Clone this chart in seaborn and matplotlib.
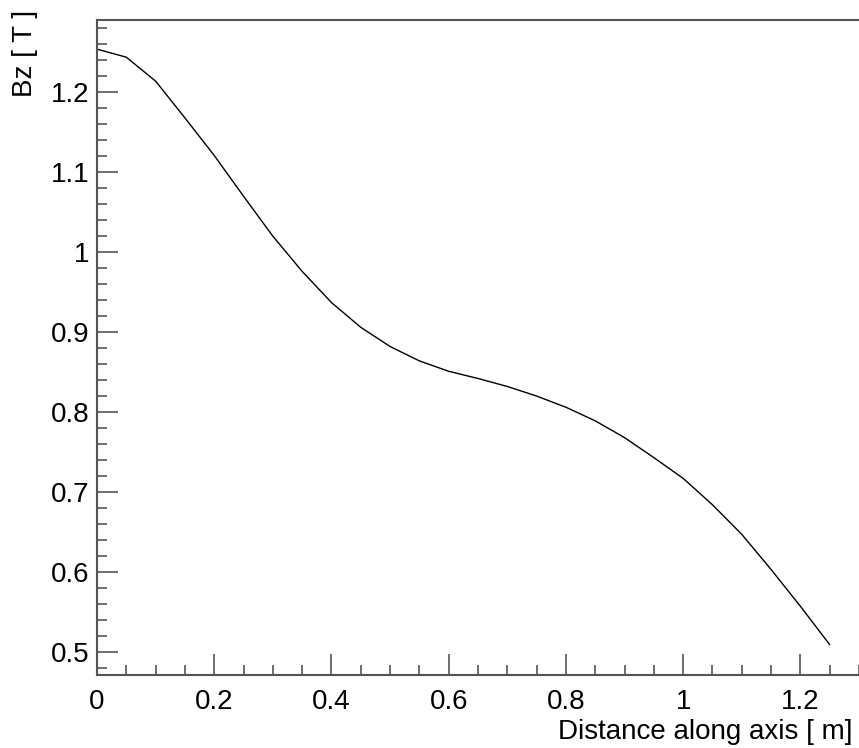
import numpy as np
import matplotlib
matplotlib.use("Agg")
import matplotlib.pyplot as plt
from matplotlib.ticker import MultipleLocator
import seaborn as sns
import pandas as pd

# field along the axis, sampled every 5 cm
distance = [0.0, 0.05, 0.1, 0.15, 0.2, 0.25, 0.3, 0.35, 0.4, 0.45, 0.5, 0.55, 0.6,
            0.65, 0.7, 0.75, 0.8, 0.85, 0.9, 0.95, 1.0, 1.05, 1.1, 1.15, 1.2, 1.25]
bz = [1.254, 1.244, 1.214, 1.168, 1.121, 1.070, 1.020, 0.976, 0.937, 0.906, 0.882,
      0.864, 0.851, 0.842, 0.832, 0.820, 0.806, 0.789, 0.768, 0.743, 0.717, 0.684,
      0.647, 0.603, 0.557, 0.509]

df = pd.DataFrame({"distance": distance, "bz": bz})

sns.set_style("ticks")
plt.rcParams['font.family'] = ['Liberation Sans', 'DejaVu Sans']

fig = plt.figure(figsize=(8.59, 7.48), dpi=100)
ax = fig.add_axes([97/859, 73/748, 762/859, 655/748])

sns.lineplot(data=df, x="distance", y="bz", color="black", linewidth=1.0, ax=ax)

ax.set_xlim(0, 1.3)
ax.set_ylim(0.471, 1.2905)
ax.xaxis.set_minor_locator(MultipleLocator(0.05))
ax.yaxis.set_minor_locator(MultipleLocator(0.02))
ax.set_xticks([0, 0.2, 0.4, 0.6, 0.8, 1.0, 1.2])
ax.set_xticklabels(["0", "0.2", "0.4", "0.6", "0.8", "1", "1.2"])
ax.set_yticks([0.5, 0.6, 0.7, 0.8, 0.9, 1.0, 1.1, 1.2])
ax.set_yticklabels(["0.5", "0.6", "0.7", "0.8", "0.9", "1", "1.1", "1.2"])

ax.tick_params(which='both', direction='in', color='#555555', width=1.2)
ax.tick_params(which='major', length=15, labelsize=20, labelcolor='black')
ax.tick_params(which='minor', length=7.5)
ax.tick_params(axis='y', pad=5.5)
ax.tick_params(axis='x', pad=10)

for side in ['left', 'bottom', 'top']:
    ax.spines[side].set_color('#555555')
    ax.spines[side].set_linewidth(1.5)
ax.spines['right'].set_visible(False)

ax.set_xlabel("Distance along axis [ m]", fontsize=20, color='black',
              ha='right', x=0.991, labelpad=3)
ax.set_ylabel("Bz [ T ]", fontsize=20, color='black',
              ha='right', y=1.015, labelpad=9)

fig.savefig("out.png", dpi=100)
